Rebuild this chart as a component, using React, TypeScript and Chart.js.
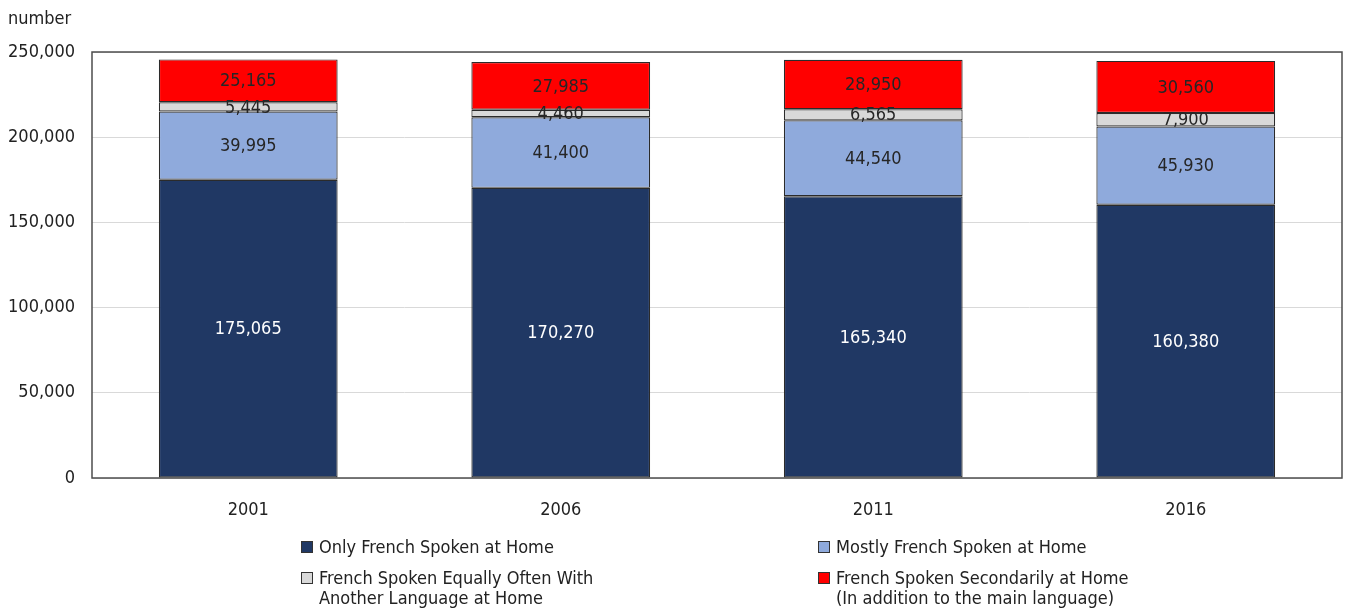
import React, { useEffect, useRef } from "react";
import { Chart, registerables } from "chart.js";

Chart.register(...registerables);

const years = ["2001", "2006", "2011", "2016"];
const onlyFrench = [175065, 170270, 165340, 160380];
const mostlyFrench = [39995, 41400, 44540, 45930];
const equallyFrench = [5445, 4460, 6565, 7900];
const secondarilyFrench = [25165, 27985, 28950, 30560];

const seriesNames = [
  ["Only French Spoken at Home"],
  ["Mostly French Spoken at Home"],
  ["French Spoken Equally Often With", "Another Language at Home"],
  ["French Spoken Secondarily at Home", "(In addition to the main language)"],
];
const seriesColors = ["#203864", "#8faadc", "#d9d9d9", "#ff0000"];
const labelColors = ["#ffffff", "#262626", "#262626", "#262626"];

const FONT = "'Liberation Sans Narrow', 'DejaVu Sans Condensed', 'Arial Narrow', sans-serif";

export default function App() {
  const ref = useRef<HTMLCanvasElement>(null);
  useEffect(() => {
    if (!ref.current) return;
    const fmt = (v: number) => v.toLocaleString("en-US");
    const chart = new Chart(ref.current, {
      type: "bar",
      data: {
        labels: years,
        datasets: [onlyFrench, mostlyFrench, equallyFrench, secondarilyFrench].map((d, i) => ({
          label: seriesNames[i].join(" "),
          data: d,
          backgroundColor: seriesColors[i],
          borderColor: "#2b2b2b",
          borderWidth: 1.2,
          borderSkipped: false,
          barPercentage: 0.572,
          categoryPercentage: 1,
        })),
      },
      options: {
        responsive: false,
        animation: false,
        layout: { padding: { left: 0, top: 52, right: 4, bottom: 91 } },
        plugins: { legend: { display: false }, tooltip: { enabled: false } },
        scales: {
          x: {
            stacked: true,
            grid: { display: false },
            border: { display: false },
            ticks: { color: "#222222", font: { family: FONT, size: 18 }, padding: 14 },
            afterFit: (s: any) => { s.height = 40; },
          },
          y: {
            stacked: true,
            min: 0,
            max: 250000,
            grid: { color: "#d9d9d9", lineWidth: 1, drawTicks: false },
            border: { display: false },
            ticks: {
              stepSize: 50000,
              color: "#222222",
              font: { family: FONT, size: 18 },
              padding: 17,
              callback: (v: any) => fmt(Number(v)),
            },
            afterFit: (s: any) => { s.width = 92; },
          },
        },
      },
      plugins: [
        {
          id: "extras",
          beforeDatasetsDraw(c: any) {
            const { ctx, chartArea: a } = c;
            ctx.save();
            ctx.strokeStyle = "#4d4d4d";
            ctx.lineWidth = 1.5;
            ctx.strokeRect(a.left, a.top, a.right - a.left, a.bottom - a.top);
            ctx.restore();
          },
          afterDraw(c: any) {
            const { ctx } = c;
            ctx.save();
            ctx.font = `18px ${FONT}`;
            ctx.textAlign = "center";
            ctx.textBaseline = "middle";
            c.data.datasets.forEach((ds: any, i: number) => {
              const meta = c.getDatasetMeta(i);
              meta.data.forEach((bar: any, j: number) => {
                const y = (bar.y + bar.base) / 2;
                ctx.fillStyle = labelColors[i];
                ctx.fillText(fmt(ds.data[j]), bar.x, y + 1);
              });
            });
            // "number" title
            ctx.textAlign = "left";
            ctx.fillStyle = "#222222";
            ctx.fillText("number", 8, 19);
            // legend
            const cols = [301, 818];
            const rows = [547, 578];
            seriesNames.forEach((lines, i) => {
              const x = cols[i % 2];
              const y = rows[Math.floor(i / 2)];
              ctx.fillStyle = seriesColors[i];
              ctx.fillRect(x, y - 6, 12, 12);
              ctx.strokeStyle = "#333333";
              ctx.lineWidth = 1;
              ctx.strokeRect(x + 0.5, y - 5.5, 11, 11);
              ctx.fillStyle = "#222222";
              lines.forEach((t, k) => ctx.fillText(t, x + 18, y + 1 + k * 20));
            });
            ctx.restore();
          },
        },
      ],
    });
    return () => chart.destroy();
  }, []);
  return (
    <div style={{ position: "fixed", left: 0, top: 0, width: 1346, height: 609, background: "#fff" }}>
      <canvas ref={ref} width={1346} height={609} style={{ display: "block" }} />
    </div>
  );
}
